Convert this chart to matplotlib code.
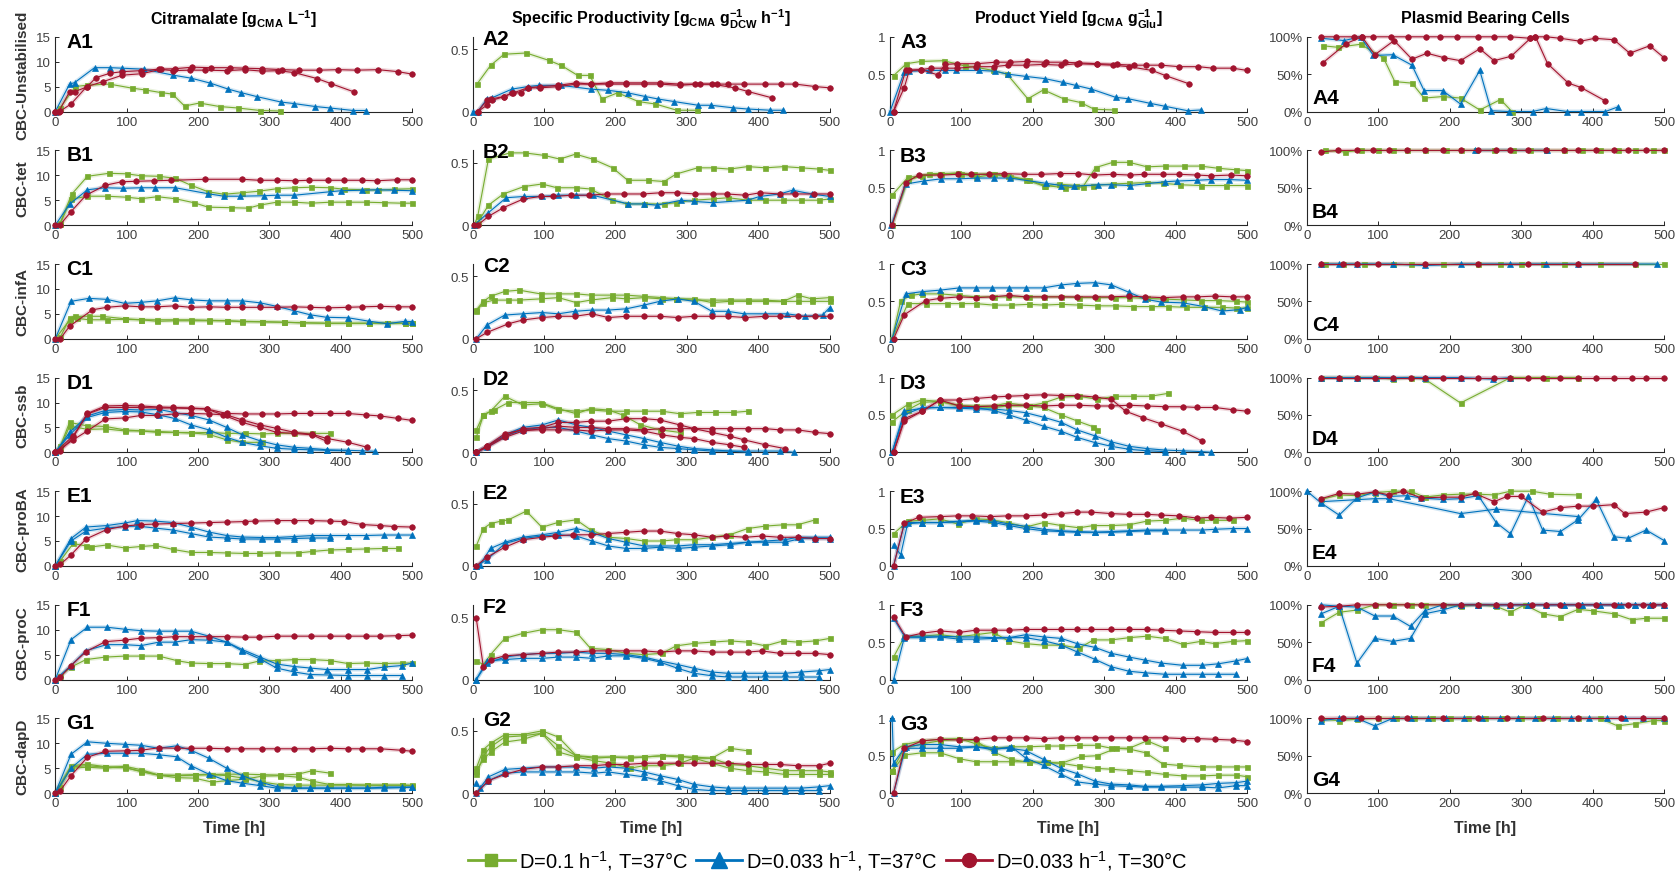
import numpy as np
import matplotlib.pyplot as plt
from matplotlib.lines import Line2D

plt.rcParams['font.family'] = ['Liberation Sans', 'DejaVu Sans']
plt.rcParams['mathtext.fontset'] = 'custom'
plt.rcParams['mathtext.rm'] = 'Liberation Sans'
plt.rcParams['mathtext.bf'] = 'Liberation Sans:bold'

GREEN = '#77AC30'
BLUE = '#0072BD'
RED = '#A2142F'

# ---- data: (time [h], value) per replicate ----
# row A: unstabilised
a1_g1 = [(0, 0), (7, 0.8), (28, 5.0), (45, 5.3), (76, 5.5), (107, 4.7), (125, 4.35), (148, 3.8), (164, 3.5), (181, 1.1), (202, 1.7), (230, 1.0), (256, 0.7), (287, 0.2), (315, 0.1)]
a1_b1 = [(0, 0), (20, 5.5), (27, 5.8), (55, 8.8), (77, 8.8), (93, 8.7), (124, 8.5), (165, 7.3), (190, 6.7), (217, 5.7), (242, 4.5), (260, 3.8), (282, 3.0), (316, 1.9), (334, 1.6), (364, 1.0), (385, 0.7), (417, 0.2), (435, 0.2)]
a1_r1 = [(0, 0), (7, 0.1), (22, 1.5), (44, 5.0), (67, 6.0), (94, 7.3), (122, 7.6), (148, 8.5), (168, 8.6), (192, 8.9), (218, 8.8), (245, 8.8), (265, 8.7), (290, 8.6), (318, 8.4), (342, 8.3), (370, 8.3), (396, 8.4), (422, 8.3), (452, 8.4), (480, 8.0), (500, 7.5)]
a1_r2 = [(0, 0), (5, 0), (20, 4.0), (27, 4.0), (44, 4.9), (57, 6.8), (77, 7.7), (94, 8.0), (120, 8.2), (145, 8.5), (165, 8.2), (188, 8.3), (210, 8.3), (240, 8.2), (265, 8.4), (290, 8.1), (312, 8.2), (335, 7.8), (367, 6.6), (386, 5.6), (419, 3.9)]

a2_g1 = [(6, 0.22), (25, 0.37), (44, 0.46), (75, 0.47), (107, 0.41), (124, 0.37), (147, 0.29), (164, 0.29), (181, 0.10), (203, 0.15), (232, 0.08), (256, 0.06), (286, 0.01), (314, 0.01)]
a2_b1 = [(0, 0), (7, 0), (20, 0.10), (27, 0.11), (55, 0.18), (77, 0.20), (93, 0.21), (124, 0.21), (165, 0.18), (190, 0.17), (217, 0.15), (242, 0.12), (260, 0.10), (282, 0.08), (316, 0.05), (334, 0.05), (364, 0.03), (385, 0.02), (417, 0.01), (435, 0.01)]
a2_r1 = [(7, 0), (20, 0.05), (25, 0.10), (44, 0.12), (55, 0.15), (67, 0.15), (77, 0.19), (94, 0.19), (120, 0.20), (145, 0.22), (165, 0.22), (192, 0.23), (215, 0.23), (240, 0.23), (262, 0.23), (290, 0.22), (318, 0.22), (342, 0.22), (358, 0.22), (380, 0.22), (410, 0.22), (432, 0.22), (452, 0.22), (480, 0.20), (500, 0.19)]
a2_r2 = [(7, 0), (20, 0.09), (27, 0.09), (44, 0.12), (57, 0.15), (77, 0.19), (94, 0.20), (120, 0.21), (145, 0.23), (165, 0.22), (190, 0.22), (215, 0.22), (240, 0.22), (262, 0.22), (290, 0.21), (312, 0.22), (335, 0.22), (367, 0.19), (386, 0.16), (419, 0.11)]

a3_g1 = [(5, 0.48), (23, 0.64), (43, 0.67), (75, 0.68), (105, 0.61), (122, 0.59), (144, 0.55), (164, 0.50), (193, 0.17), (215, 0.29), (243, 0.17), (267, 0.12), (286, 0.03), (314, 0.02)]
a3_b1 = [(0, 0), (20, 0.53), (27, 0.54), (55, 0.55), (77, 0.55), (93, 0.55), (124, 0.55), (147, 0.54), (165, 0.50), (190, 0.47), (217, 0.44), (242, 0.39), (260, 0.35), (282, 0.30), (316, 0.19), (334, 0.17), (364, 0.11), (385, 0.07), (417, 0.01), (435, 0.02)]
a3_r1 = [(5, 0), (20, 0.32), (27, 0.55), (44, 0.56), (67, 0.49), (77, 0.63), (94, 0.64), (122, 0.64), (148, 0.66), (168, 0.66), (192, 0.67), (218, 0.66), (245, 0.66), (265, 0.65), (290, 0.64), (318, 0.63), (342, 0.62), (358, 0.62), (380, 0.62), (405, 0.60), (432, 0.60), (452, 0.58), (480, 0.58), (500, 0.55)]
a3_r2 = [(5, 0), (22, 0.55), (44, 0.56), (57, 0.58), (77, 0.58), (94, 0.58), (120, 0.60), (145, 0.60), (165, 0.62), (190, 0.62), (215, 0.63), (240, 0.62), (262, 0.64), (290, 0.63), (312, 0.62), (335, 0.60), (367, 0.55), (386, 0.48), (419, 0.37)]

a4_g1 = [(22, 88), (43, 86), (75, 90), (107, 72), (123, 40), (147, 38), (164, 18), (190, 20), (215, 18), (242, 2), (271, 16), (287, 0)]
a4_b1 = [(20, 98), (52, 95), (75, 100), (93, 75), (120, 76), (147, 62), (164, 28), (190, 28), (215, 10), (242, 55), (258, 1), (283, 0), (316, 0), (335, 4), (364, 0), (384, 0), (418, 0), (435, 6)]
a4_r1 = [(20, 100), (41, 100), (66, 100), (77, 100), (93, 100), (118, 100), (141, 100), (166, 100), (186, 100), (210, 100), (240, 100), (262, 100), (285, 100), (313, 98), (320, 100), (335, 100), (355, 98), (383, 94), (403, 98), (430, 96), (452, 78), (480, 88), (500, 72)]
a4_r2 = [(22, 65), (55, 91), (77, 100), (95, 76), (122, 95), (147, 70), (168, 78), (192, 72), (215, 68), (242, 84), (262, 68), (286, 74), (313, 98), (320, 100), (337, 64), (366, 38), (384, 32), (418, 14)]

# row B: tet
b1_g1 = [(0, 0), (7, 0.5), (23, 6.2), (45, 9.8), (75, 10.4), (100, 10.3), (120, 9.9), (145, 9.8), (168, 9.4), (190, 8.0), (214, 6.7), (236, 6.2), (262, 6.5), (285, 6.8), (310, 7.3), (335, 7.5), (358, 7.6), (385, 7.5), (405, 7.2), (435, 7.1), (452, 7.0), (475, 7.2), (500, 7.3)]
b1_g2 = [(0, 0), (7, 0.3), (22, 5.2), (45, 5.8), (72, 5.8), (100, 5.6), (120, 5.3), (143, 5.7), (168, 5.3), (194, 4.5), (214, 3.6), (246, 3.5), (270, 3.4), (286, 4.0), (310, 4.6), (335, 4.6), (358, 4.4), (385, 4.6), (410, 4.6), (435, 4.6), (460, 4.5), (485, 4.4), (500, 4.4)]
b1_b1 = [(0, 0), (20, 4.2), (45, 7.1), (70, 7.5), (95, 7.4), (120, 7.5), (140, 7.5), (168, 7.5), (214, 6.3), (236, 5.8), (258, 5.8), (292, 5.9), (310, 6.0), (335, 6.0), (385, 6.7), (400, 6.9), (430, 7.0), (450, 7.1), (475, 7.0), (500, 6.9)]
b1_r1 = [(0, 0), (7, 0.1), (22, 2.7), (43, 6.0), (70, 8.0), (93, 8.7), (113, 8.8), (138, 8.9), (162, 9.0), (210, 9.2), (262, 9.2), (286, 9.0), (311, 9.0), (336, 8.9), (355, 9.0), (382, 9.0), (405, 9.0), (430, 9.0), (450, 8.9), (478, 9.1), (500, 9.1)]

b2_g1 = [(2, 0), (7, 0.07), (22, 0.53), (52, 0.58), (73, 0.58), (100, 0.56), (122, 0.53), (144, 0.57), (168, 0.53), (196, 0.46), (217, 0.36), (245, 0.36), (268, 0.35), (285, 0.41), (315, 0.46), (336, 0.46), (360, 0.45), (385, 0.47), (410, 0.46), (436, 0.47), (460, 0.46), (485, 0.45), (500, 0.44)]
b2_g2 = [(2, 0), (7, 0.02), (22, 0.16), (43, 0.25), (72, 0.31), (97, 0.33), (118, 0.30), (145, 0.30), (165, 0.29), (195, 0.20), (216, 0.17), (240, 0.17), (268, 0.17), (285, 0.18), (310, 0.20), (336, 0.21), (358, 0.22), (385, 0.20), (410, 0.20), (435, 0.20), (460, 0.20), (485, 0.20), (500, 0.21)]
b2_b1 = [(2, 0), (22, 0.10), (47, 0.22), (72, 0.23), (97, 0.23), (120, 0.24), (145, 0.24), (168, 0.24), (218, 0.17), (240, 0.17), (258, 0.16), (292, 0.20), (310, 0.19), (336, 0.18), (385, 0.20), (402, 0.23), (430, 0.25), (448, 0.28), (475, 0.25), (500, 0.23)]
b2_r1 = [(2, 0), (7, 0), (22, 0.07), (43, 0.14), (71, 0.21), (95, 0.23), (113, 0.23), (138, 0.24), (163, 0.24), (188, 0.25), (212, 0.25), (238, 0.25), (264, 0.26), (286, 0.26), (312, 0.25), (336, 0.25), (356, 0.25), (382, 0.24), (403, 0.26), (430, 0.25), (452, 0.25), (478, 0.25), (500, 0.25)]

b3_g1 = [(3, 0.40), (25, 0.64), (45, 0.66), (70, 0.68), (95, 0.70), (118, 0.68), (143, 0.69), (165, 0.66), (195, 0.60), (217, 0.53), (245, 0.50), (270, 0.51), (288, 0.77), (312, 0.84), (335, 0.84), (360, 0.78), (385, 0.79), (412, 0.79), (435, 0.79), (460, 0.76), (485, 0.74), (500, 0.73)]
b3_g2 = [(3, 0), (25, 0.60), (55, 0.69), (72, 0.69), (100, 0.69), (120, 0.64), (145, 0.68), (168, 0.64), (190, 0.61), (216, 0.52), (236, 0.55), (260, 0.53), (285, 0.53), (312, 0.55), (335, 0.56), (360, 0.57), (382, 0.56), (406, 0.54), (436, 0.53), (470, 0.53), (500, 0.53)]
b3_b1 = [(2, 0), (22, 0.55), (47, 0.59), (72, 0.62), (97, 0.62), (122, 0.63), (145, 0.63), (168, 0.63), (218, 0.56), (240, 0.53), (258, 0.52), (292, 0.54), (310, 0.54), (336, 0.53), (385, 0.58), (402, 0.59), (430, 0.60), (450, 0.61), (475, 0.61), (500, 0.60)]
b3_r1 = [(3, 0), (22, 0.57), (40, 0.67), (70, 0.67), (95, 0.68), (113, 0.68), (138, 0.68), (160, 0.69), (188, 0.68), (212, 0.68), (238, 0.69), (264, 0.69), (286, 0.67), (312, 0.68), (336, 0.67), (356, 0.68), (382, 0.68), (405, 0.68), (430, 0.67), (450, 0.66), (478, 0.67), (500, 0.66)]

b4_g1 = [(25, 100), (53, 98), (75, 100), (100, 100), (120, 100), (140, 100), (165, 100), (195, 100), (215, 100), (236, 100), (262, 100), (288, 100), (312, 100), (335, 100), (360, 100), (385, 100), (410, 100), (435, 100), (460, 100), (485, 100), (500, 100)]
b4_b1 = [(235, 100), (336, 100)]
b4_r1 = [(20, 98), (43, 100), (70, 100), (92, 100), (115, 100), (140, 100), (165, 100), (190, 100), (215, 100), (240, 100), (265, 100), (285, 100), (310, 100), (335, 100), (360, 100), (380, 100), (405, 100), (430, 100), (450, 100), (475, 100), (500, 100)]

# row C: infA
c1_g1 = [(0, 0), (7, 0.3), (20, 4.1), (27, 4.5), (47, 4.5), (65, 4.5), (97, 4.0), (120, 3.8), (143, 3.8), (167, 3.8), (190, 3.8), (215, 3.7), (240, 3.6), (262, 3.5), (290, 3.4), (320, 3.3), (345, 3.2), (380, 3.1), (410, 3.1), (440, 3.1), (465, 3.2), (490, 3.1), (500, 3.2)]
c1_g2 = [(0, 0), (20, 3.7), (30, 4.1), (47, 3.8), (72, 3.8), (97, 3.9), (120, 3.8), (143, 3.5), (167, 3.6), (190, 3.6), (215, 3.6), (240, 3.6), (262, 3.4), (290, 3.4), (320, 3.3), (345, 3.2), (380, 3.1), (410, 3.1), (440, 3.1), (465, 3.1), (490, 3.1), (500, 3.1)]
c1_b1 = [(0, 0), (22, 7.5), (47, 8.1), (72, 7.9), (97, 7.1), (120, 7.3), (143, 7.6), (167, 8.2), (190, 7.8), (215, 7.6), (240, 7.6), (262, 7.6), (287, 7.2), (310, 6.5), (335, 5.6), (357, 4.8), (380, 4.3), (410, 4.2), (440, 3.5), (465, 3.0), (490, 3.5), (500, 3.4)]
c1_r1 = [(0, 0), (7, 0), (20, 2.5), (52, 5.8), (72, 6.3), (97, 6.6), (120, 6.4), (143, 6.4), (167, 6.6), (190, 6.3), (215, 6.4), (240, 6.3), (262, 6.3), (287, 6.3), (310, 6.3), (335, 6.4), (357, 6.3), (382, 6.2), (410, 6.3), (430, 6.4), (455, 6.5), (480, 6.4), (500, 6.4)]

c2_g1 = [(5, 0.23), (15, 0.30), (25, 0.34), (45, 0.38), (65, 0.39), (95, 0.36), (120, 0.36), (145, 0.36), (165, 0.35), (195, 0.35), (215, 0.35), (240, 0.34), (265, 0.33), (285, 0.32), (310, 0.31), (335, 0.31), (360, 0.31), (385, 0.31), (410, 0.31), (435, 0.30), (455, 0.35), (475, 0.32), (500, 0.33)]
c2_g2 = [(5, 0.22), (15, 0.29), (30, 0.31), (50, 0.31), (65, 0.31), (95, 0.32), (120, 0.33), (145, 0.29), (165, 0.31), (195, 0.33), (215, 0.32), (240, 0.33), (265, 0.32), (285, 0.32), (310, 0.32), (335, 0.29), (360, 0.30), (385, 0.30), (410, 0.30), (435, 0.30), (455, 0.30), (475, 0.30), (500, 0.30)]
c2_b1 = [(5, 0), (20, 0.11), (45, 0.19), (70, 0.20), (97, 0.21), (120, 0.20), (143, 0.22), (167, 0.23), (190, 0.23), (215, 0.24), (240, 0.27), (262, 0.30), (287, 0.32), (310, 0.30), (335, 0.22), (357, 0.22), (380, 0.20), (410, 0.20), (440, 0.20), (465, 0.18), (490, 0.19), (500, 0.25)]
c2_r1 = [(5, 0), (20, 0.05), (50, 0.12), (70, 0.15), (97, 0.17), (120, 0.18), (143, 0.18), (167, 0.20), (190, 0.17), (215, 0.18), (240, 0.18), (262, 0.18), (287, 0.17), (310, 0.18), (335, 0.18), (357, 0.18), (382, 0.17), (410, 0.18), (430, 0.18), (455, 0.18), (480, 0.18), (500, 0.18)]

c3_g1 = [(3, 0), (15, 0.51), (30, 0.58), (45, 0.60), (70, 0.60), (97, 0.58), (120, 0.56), (145, 0.56), (165, 0.56), (195, 0.56), (215, 0.56), (240, 0.56), (265, 0.55), (290, 0.55), (315, 0.55), (335, 0.55), (360, 0.54), (385, 0.53), (410, 0.52), (435, 0.51), (460, 0.51), (485, 0.50), (500, 0.49)]
c3_g2 = [(3, 0), (25, 0.47), (50, 0.47), (80, 0.47), (100, 0.47), (120, 0.47), (145, 0.45), (170, 0.45), (195, 0.46), (215, 0.45), (240, 0.46), (265, 0.45), (290, 0.44), (315, 0.44), (340, 0.43), (365, 0.43), (390, 0.43), (415, 0.42), (440, 0.42), (465, 0.42), (485, 0.41), (500, 0.41)]
c3_b1 = [(3, 0), (22, 0.60), (45, 0.63), (70, 0.65), (97, 0.68), (120, 0.68), (143, 0.68), (167, 0.68), (190, 0.68), (215, 0.68), (240, 0.72), (262, 0.74), (287, 0.75), (310, 0.72), (335, 0.62), (357, 0.53), (380, 0.49), (410, 0.48), (440, 0.43), (465, 0.37), (490, 0.39), (500, 0.42)]
c3_r1 = [(5, 0), (20, 0.32), (50, 0.51), (70, 0.54), (97, 0.56), (120, 0.55), (143, 0.56), (167, 0.58), (190, 0.56), (215, 0.56), (240, 0.56), (262, 0.56), (287, 0.56), (310, 0.56), (335, 0.57), (357, 0.56), (382, 0.55), (410, 0.56), (430, 0.56), (455, 0.57), (480, 0.56), (500, 0.56)]

c4_g1 = [(25, 100), (50, 100), (80, 100), (120, 100), (145, 100), (190, 100), (240, 100), (270, 100), (300, 100), (330, 100), (360, 100), (410, 100), (460, 100), (500, 100)]
c4_b1 = [(20, 100), (45, 100), (70, 100), (120, 100), (165, 98), (215, 100), (285, 100), (335, 100), (380, 100), (490, 100)]
c4_r1 = [(20, 100), (50, 100), (70, 100), (100, 100), (165, 100), (240, 100), (310, 100), (380, 100), (460, 100)]

# row D: ssb
d1_g1 = [(0, 0), (7, 1.2), (20, 6.0), (45, 5.3), (70, 5.2), (97, 4.5), (120, 4.3), (143, 4.2), (167, 4.0), (190, 3.9), (215, 4.0), (240, 3.8), (265, 3.8), (290, 3.7), (310, 3.8), (335, 3.8), (360, 3.8), (385, 3.8)]
d1_g2 = [(0, 0), (7, 0.8), (20, 5.3), (45, 4.6), (70, 4.7), (97, 4.3), (120, 4.3), (143, 4.0), (167, 4.0), (190, 3.9), (215, 3.6), (240, 2.5), (262, 2.0), (290, 2.0)]
d1_b1 = [(0, 0), (20, 4.0), (45, 7.3), (70, 8.4), (97, 8.6), (120, 8.5), (145, 8.6), (167, 8.0), (190, 7.4), (215, 6.5), (240, 5.0), (262, 3.5), (287, 2.3), (310, 1.5), (335, 1.0), (357, 0.8), (380, 0.5), (410, 0.4), (430, 0.3), (448, 0.2)]
d1_b2 = [(0, 0), (20, 3.5), (45, 7.0), (70, 8.0), (97, 8.2), (120, 8.1), (145, 7.5), (167, 6.8), (190, 5.5), (215, 4.5), (240, 3.0), (262, 2.0), (287, 1.3), (310, 0.8), (335, 0.6), (357, 0.5), (380, 0.4), (410, 0.3)]
d1_r1 = [(0, 0), (7, 0.3), (25, 3.0), (45, 7.8), (70, 9.3), (97, 9.4), (120, 9.3), (145, 9.1), (165, 9.0), (190, 8.9), (212, 8.7), (240, 7.8), (265, 7.7), (290, 7.7), (310, 7.7), (335, 7.8), (357, 7.8), (385, 7.8), (410, 7.8), (435, 7.5), (455, 7.3), (480, 6.8), (500, 6.4)]
d1_r2 = [(0, 0), (25, 2.5), (45, 4.3), (70, 6.7), (97, 6.9), (120, 7.4), (143, 7.4), (167, 7.7), (190, 7.8), (215, 7.7), (240, 7.5), (262, 6.5), (287, 5.5), (310, 4.8), (335, 4.0), (360, 3.6), (380, 2.8), (410, 2.0), (437, 1.0)]
d1_r3 = [(0, 0), (25, 3.3), (45, 7.7), (70, 9.0), (97, 9.0), (120, 9.0), (145, 8.9), (165, 8.9), (190, 8.8), (212, 8.7), (235, 7.5), (262, 6.0), (287, 5.0), (310, 4.0), (335, 3.8), (360, 3.5), (380, 2.2)]

d2_g1 = [(5, 0.18), (15, 0.30), (25, 0.33), (45, 0.45), (70, 0.38), (97, 0.39), (120, 0.34), (145, 0.33), (165, 0.34), (190, 0.33), (215, 0.33), (240, 0.33), (265, 0.33), (290, 0.31), (315, 0.32), (340, 0.32), (365, 0.32), (385, 0.33)]
d2_g2 = [(5, 0.12), (15, 0.30), (30, 0.34), (50, 0.40), (70, 0.40), (95, 0.40), (120, 0.35), (145, 0.31), (165, 0.35), (190, 0.34), (210, 0.30), (235, 0.22), (262, 0.18), (290, 0.16)]
d2_b1 = [(5, 0), (20, 0.05), (45, 0.14), (70, 0.20), (97, 0.22), (120, 0.26), (145, 0.22), (167, 0.20), (190, 0.17), (215, 0.14), (240, 0.11), (262, 0.08), (287, 0.05), (310, 0.03), (335, 0.02), (360, 0.01), (385, 0.01), (410, 0.01), (430, 0.01), (450, 0.0)]
d2_b2 = [(5, 0), (20, 0.04), (45, 0.13), (70, 0.18), (97, 0.20), (120, 0.20), (145, 0.17), (167, 0.14), (190, 0.11), (215, 0.09), (240, 0.06), (262, 0.04), (287, 0.03), (310, 0.02), (335, 0.01), (360, 0.01), (385, 0.0)]
d2_r1 = [(5, 0), (20, 0.04), (45, 0.12), (70, 0.17), (97, 0.19), (120, 0.21), (145, 0.20), (165, 0.20), (190, 0.19), (215, 0.19), (240, 0.18), (265, 0.19), (290, 0.19), (310, 0.19), (335, 0.19), (360, 0.19), (385, 0.19), (410, 0.19), (430, 0.18), (455, 0.18), (480, 0.16), (500, 0.15)]
d2_r2 = [(5, 0), (20, 0.05), (45, 0.13), (70, 0.19), (97, 0.20), (120, 0.24), (145, 0.24), (165, 0.25), (190, 0.25), (215, 0.27), (240, 0.27), (262, 0.26), (290, 0.22), (310, 0.19), (335, 0.16), (360, 0.13), (380, 0.10), (410, 0.06), (437, 0.03)]
d2_r3 = [(5, 0), (20, 0.05), (45, 0.15), (70, 0.18), (97, 0.18), (120, 0.18), (145, 0.18), (165, 0.17), (190, 0.18), (215, 0.18), (240, 0.17), (265, 0.14), (290, 0.12), (310, 0.11), (335, 0.08), (360, 0.06), (380, 0.04)]

d3_g1 = [(3, 0.50), (25, 0.64), (45, 0.70), (70, 0.68), (97, 0.62), (120, 0.62), (145, 0.62), (165, 0.66), (195, 0.62), (215, 0.66), (240, 0.74), (265, 0.75), (290, 0.71), (315, 0.75), (340, 0.75), (365, 0.75), (390, 0.79)]
d3_g2 = [(3, 0.41), (25, 0.57), (45, 0.67), (70, 0.68), (97, 0.63), (120, 0.61), (145, 0.60), (165, 0.62), (195, 0.62), (215, 0.60), (240, 0.50), (262, 0.42), (285, 0.34), (290, 0.30)]
d3_b1 = [(3, 0), (20, 0.55), (45, 0.59), (70, 0.60), (97, 0.59), (120, 0.58), (145, 0.58), (167, 0.56), (190, 0.53), (215, 0.47), (240, 0.40), (262, 0.30), (287, 0.22), (310, 0.14), (335, 0.08), (360, 0.05), (385, 0.03), (410, 0.02), (435, 0.01), (450, 0.0)]
d3_b2 = [(3, 0), (20, 0.50), (45, 0.60), (70, 0.60), (97, 0.60), (120, 0.60), (145, 0.56), (167, 0.50), (190, 0.43), (215, 0.35), (240, 0.28), (262, 0.20), (287, 0.13), (310, 0.08), (335, 0.04), (360, 0.02), (385, 0.01)]
d3_r1 = [(5, 0), (20, 0.45), (45, 0.55), (70, 0.70), (97, 0.62), (120, 0.61), (145, 0.62), (165, 0.63), (190, 0.63), (215, 0.62), (240, 0.63), (265, 0.63), (290, 0.62), (310, 0.62), (335, 0.63), (360, 0.62), (385, 0.61), (410, 0.61), (430, 0.60), (455, 0.60), (480, 0.57), (500, 0.55)]
d3_r2 = [(5, 0), (20, 0.42), (45, 0.55), (70, 0.70), (97, 0.70), (120, 0.72), (145, 0.74), (165, 0.75), (190, 0.76), (215, 0.77), (240, 0.76), (262, 0.76), (287, 0.74), (310, 0.71), (330, 0.55), (355, 0.46), (380, 0.38), (410, 0.28), (437, 0.15)]

d4_g1 = [(20, 100), (45, 100), (70, 100), (97, 100), (120, 98), (145, 100), (165, 98), (215, 66), (285, 100), (335, 100), (380, 100)]
d4_b1 = [(20, 100), (45, 100), (70, 100), (97, 100), (120, 100), (165, 100), (215, 100), (260, 98), (285, 100)]
d4_r1 = [(20, 100), (45, 100), (70, 100), (95, 100), (120, 100), (145, 100), (165, 100), (190, 100), (215, 100), (240, 100), (262, 100), (285, 100), (310, 100), (330, 100), (355, 100), (380, 100), (405, 100), (430, 100), (455, 100), (475, 100), (500, 100)]

# row E: proBA
e1_g1 = [(0, 0), (7, 1.0), (25, 4.5), (43, 4.0), (50, 3.8), (72, 4.2), (97, 3.6), (120, 3.9), (140, 4.1), (165, 3.3), (190, 2.7), (215, 2.7), (240, 2.6), (265, 2.5), (285, 2.5), (310, 2.6), (340, 2.6), (360, 2.9), (385, 3.2), (410, 3.3), (435, 3.4), (460, 3.5), (480, 3.5)]
e1_b1 = [(0, 0), (22, 5.5), (43, 7.8), (72, 8.1), (97, 8.6), (115, 9.1), (140, 9.0), (165, 8.7), (190, 7.8), (215, 6.8), (240, 6.1), (262, 5.8), (290, 5.7), (310, 5.7), (335, 5.9), (360, 6.1), (385, 6.1), (410, 6.1), (435, 6.1), (460, 6.2), (480, 6.2), (500, 6.2)]
e1_b2 = [(0, 0), (22, 5.0), (43, 7.0), (72, 7.6), (97, 7.9), (115, 8.0), (140, 7.6), (165, 7.2), (190, 6.5), (215, 5.8), (240, 5.6), (262, 5.4), (290, 5.4), (310, 5.4), (335, 5.5), (360, 5.6), (385, 5.6)]
e1_r1 = [(0, 0), (7, 0.3), (22, 2.2), (43, 5.4), (72, 7.3), (97, 8.0), (120, 8.3), (140, 8.4), (165, 8.5), (190, 8.6), (215, 8.7), (240, 8.8), (265, 8.9), (280, 9.0), (310, 9.1), (335, 9.1), (358, 9.1), (385, 9.0), (405, 8.9), (430, 8.3), (455, 8.1), (475, 7.9), (500, 7.8)]

e2_g1 = [(5, 0.16), (15, 0.30), (25, 0.34), (40, 0.36), (50, 0.37), (75, 0.44), (97, 0.31), (120, 0.35), (145, 0.37), (165, 0.29), (190, 0.23), (215, 0.22), (240, 0.20), (265, 0.20), (285, 0.21), (310, 0.21), (335, 0.23), (360, 0.25), (385, 0.30), (410, 0.32), (435, 0.33), (455, 0.33), (480, 0.37)]
e2_b1 = [(5, 0), (10, 0.01), (25, 0.14), (45, 0.19), (70, 0.23), (97, 0.25), (120, 0.27), (145, 0.30), (167, 0.27), (190, 0.22), (215, 0.19), (240, 0.16), (262, 0.16), (287, 0.16), (310, 0.17), (335, 0.17), (360, 0.18), (385, 0.19), (410, 0.20), (437, 0.21), (455, 0.23), (480, 0.23), (500, 0.23)]
e2_b2 = [(5, 0), (20, 0.05), (45, 0.18), (70, 0.22), (97, 0.24), (120, 0.25), (145, 0.24), (167, 0.20), (190, 0.16), (215, 0.14), (240, 0.14), (262, 0.15), (287, 0.14), (310, 0.15), (335, 0.16), (360, 0.17), (385, 0.19), (410, 0.19), (437, 0.19), (460, 0.22), (480, 0.22), (500, 0.22)]
e2_r1 = [(5, 0), (20, 0.07), (45, 0.15), (70, 0.21), (97, 0.23), (115, 0.24), (140, 0.25), (165, 0.25), (190, 0.26), (215, 0.27), (240, 0.28), (262, 0.28), (287, 0.26), (310, 0.25), (335, 0.23), (355, 0.24), (382, 0.23), (405, 0.24), (430, 0.23), (455, 0.23), (480, 0.22), (500, 0.22)]

e3_g1 = [(5, 0.43), (25, 0.60), (45, 0.61), (70, 0.63), (95, 0.56), (120, 0.63), (140, 0.62), (165, 0.58), (190, 0.52), (215, 0.58), (240, 0.54), (265, 0.51), (285, 0.54), (310, 0.54), (335, 0.55), (360, 0.60), (385, 0.61), (410, 0.64), (435, 0.61), (455, 0.61), (480, 0.61)]
e3_b1 = [(5, 0.28), (15, 0.15), (25, 0.58), (45, 0.58), (70, 0.58), (97, 0.60), (120, 0.61), (145, 0.60), (167, 0.56), (190, 0.53), (215, 0.49), (240, 0.47), (262, 0.46), (287, 0.45), (310, 0.46), (335, 0.47), (360, 0.48), (385, 0.48), (410, 0.48), (437, 0.48), (455, 0.49), (480, 0.50), (500, 0.50)]
e3_b2 = [(5, 0), (20, 0.56), (45, 0.58), (70, 0.58), (97, 0.59), (120, 0.60), (145, 0.58), (167, 0.54), (190, 0.50), (215, 0.47), (240, 0.46), (262, 0.45), (287, 0.45), (310, 0.45), (335, 0.46), (360, 0.47), (385, 0.47)]
e3_r1 = [(5, 0), (20, 0.57), (40, 0.65), (70, 0.66), (95, 0.67), (115, 0.67), (140, 0.66), (165, 0.67), (190, 0.67), (215, 0.68), (240, 0.70), (262, 0.72), (282, 0.72), (310, 0.70), (335, 0.69), (360, 0.69), (380, 0.68), (405, 0.67), (430, 0.64), (450, 0.65), (475, 0.64), (500, 0.65)]

e4_g1 = [(20, 89), (45, 95), (70, 94), (95, 98), (120, 100), (145, 100), (165, 92), (190, 95), (215, 96), (240, 96), (262, 95), (285, 100), (315, 100), (340, 96), (380, 95)]
e4_b1 = [(0, 100), (20, 84), (45, 68), (70, 91), (95, 99), (115, 93), (140, 94), (160, 91), (190, 89), (215, 90), (240, 94), (265, 58), (285, 43), (310, 93), (330, 48), (355, 46), (380, 62), (405, 89), (430, 39), (450, 37), (475, 48), (500, 34)]
e4_b2 = [(20, 86), (95, 90), (115, 90), (215, 70), (265, 76), (380, 66)]
e4_r1 = [(20, 90), (45, 97), (70, 96), (95, 99), (115, 95), (135, 100), (160, 91), (190, 92), (215, 92), (235, 97), (262, 86), (280, 93), (300, 93), (330, 72), (355, 78), (380, 80), (400, 80), (430, 82), (445, 70), (475, 72), (500, 78)]

# row F: proC
f1_g1 = [(0, 0), (7, 0.7), (22, 2.5), (43, 4.0), (70, 4.5), (97, 4.7), (120, 4.7), (145, 4.7), (170, 3.8), (190, 3.3), (215, 3.2), (240, 3.2), (265, 3.0), (285, 3.7), (310, 3.8), (335, 4.0), (360, 4.0), (385, 3.8), (410, 3.2), (435, 3.3), (460, 3.2), (485, 3.3), (500, 3.3)]
f1_b1 = [(0, 0), (22, 8.0), (45, 10.5), (72, 10.5), (97, 10.1), (120, 9.8), (145, 9.7), (167, 9.7), (190, 9.7), (215, 8.7), (240, 7.5), (262, 6.0), (287, 4.5), (310, 3.1), (335, 2.6), (357, 2.3), (380, 2.0), (410, 2.0), (437, 2.0), (460, 2.5), (485, 2.8), (500, 3.3)]
f1_b2 = [(0, 0), (22, 2.8), (43, 5.8), (72, 7.0), (97, 7.0), (120, 6.8), (145, 7.5), (167, 7.5), (190, 8.0), (215, 7.9), (240, 7.5), (262, 5.7), (287, 4.1), (310, 2.3), (335, 1.5), (357, 1.0), (385, 0.9), (410, 0.8), (437, 0.8), (460, 0.8), (485, 0.8)]
f1_r1 = [(0, 0), (7, 0.5), (22, 2.8), (43, 5.6), (70, 7.6), (97, 7.9), (120, 8.3), (145, 8.4), (167, 8.6), (190, 8.6), (215, 8.6), (240, 8.6), (265, 8.5), (285, 8.5), (310, 8.7), (335, 8.7), (358, 8.7), (385, 8.7), (410, 8.7), (435, 8.7), (455, 8.7), (480, 8.8), (500, 8.9)]

f2_g1 = [(5, 0.15), (15, 0.12), (25, 0.20), (45, 0.33), (70, 0.37), (97, 0.40), (120, 0.40), (145, 0.38), (165, 0.25), (190, 0.24), (215, 0.21), (240, 0.20), (265, 0.21), (285, 0.27), (310, 0.29), (335, 0.30), (360, 0.31), (385, 0.30), (410, 0.27), (435, 0.31), (455, 0.30), (480, 0.31), (500, 0.33)]
f2_b1 = [(5, 0), (20, 0.13), (45, 0.18), (70, 0.20), (97, 0.21), (120, 0.21), (145, 0.22), (167, 0.21), (190, 0.21), (215, 0.20), (240, 0.18), (262, 0.15), (287, 0.12), (310, 0.09), (335, 0.06), (357, 0.05), (380, 0.05), (410, 0.05), (437, 0.05), (460, 0.06), (485, 0.07), (500, 0.08)]
f2_b2 = [(5, 0), (20, 0.15), (45, 0.16), (70, 0.17), (97, 0.17), (120, 0.18), (145, 0.18), (167, 0.17), (190, 0.19), (215, 0.19), (240, 0.17), (262, 0.14), (287, 0.09), (310, 0.05), (335, 0.03), (357, 0.02), (380, 0.02), (410, 0.02), (437, 0.02), (460, 0.02), (485, 0.02)]
f2_r1 = [(5, 0.49), (15, 0.10), (25, 0.16), (45, 0.19), (70, 0.20), (97, 0.21), (120, 0.22), (145, 0.22), (167, 0.23), (190, 0.23), (215, 0.23), (240, 0.23), (262, 0.22), (287, 0.23), (310, 0.23), (335, 0.22), (360, 0.22), (385, 0.22), (405, 0.23), (430, 0.21), (455, 0.21), (480, 0.21), (500, 0.20)]

f3_g1 = [(5, 0.30), (20, 0.57), (45, 0.58), (70, 0.60), (95, 0.57), (120, 0.60), (145, 0.63), (165, 0.52), (190, 0.48), (215, 0.46), (240, 0.46), (265, 0.42), (285, 0.53), (310, 0.53), (335, 0.56), (360, 0.58), (385, 0.55), (410, 0.47), (435, 0.51), (455, 0.48), (480, 0.51), (500, 0.52)]
f3_b1 = [(5, 0.82), (20, 0.58), (45, 0.58), (70, 0.58), (97, 0.57), (120, 0.57), (145, 0.56), (167, 0.56), (190, 0.60), (215, 0.57), (240, 0.55), (262, 0.48), (287, 0.43), (310, 0.35), (335, 0.30), (357, 0.26), (380, 0.22), (410, 0.19), (437, 0.19), (460, 0.21), (485, 0.25), (500, 0.28)]
f3_b2 = [(5, 0), (20, 0.56), (45, 0.56), (70, 0.57), (97, 0.54), (120, 0.54), (145, 0.55), (167, 0.56), (190, 0.56), (215, 0.52), (240, 0.46), (262, 0.37), (287, 0.27), (310, 0.17), (335, 0.11), (357, 0.09), (385, 0.07), (410, 0.07), (437, 0.07), (460, 0.07), (485, 0.07)]
f3_r1 = [(5, 0.84), (22, 0.57), (45, 0.62), (70, 0.65), (97, 0.63), (120, 0.66), (145, 0.66), (167, 0.66), (190, 0.67), (215, 0.67), (240, 0.67), (262, 0.67), (282, 0.67), (310, 0.67), (335, 0.67), (360, 0.67), (380, 0.66), (405, 0.65), (430, 0.64), (455, 0.63), (480, 0.63), (500, 0.63)]

f4_g1 = [(20, 76), (45, 90), (70, 93), (95, 100), (120, 100), (145, 100), (165, 100), (190, 100), (215, 98), (240, 100), (265, 98), (285, 90), (305, 100), (330, 88), (355, 84), (380, 94), (400, 92), (430, 88), (455, 80), (475, 82), (500, 82)]
f4_b1 = [(20, 100), (45, 98), (70, 97), (95, 85), (120, 85), (145, 71), (165, 92), (190, 100), (215, 100), (240, 100), (265, 100), (285, 100), (310, 100), (335, 100), (360, 100), (385, 100), (410, 100), (435, 100), (460, 100), (480, 100), (500, 100)]
f4_b2 = [(20, 88), (45, 98), (70, 22), (95, 55), (120, 51), (145, 55), (165, 88), (190, 93), (215, 100), (240, 100), (265, 100), (285, 100), (310, 100), (335, 100), (360, 100), (385, 100), (410, 100), (440, 100), (460, 100), (480, 100), (500, 100)]
f4_r1 = [(20, 97), (45, 98), (70, 100), (95, 100), (115, 100), (140, 100), (160, 100), (190, 100), (215, 100), (240, 100), (265, 100), (285, 100), (315, 100), (335, 100), (355, 100), (380, 100), (405, 100), (430, 100), (450, 100), (470, 100), (485, 100), (500, 100)]

# row G: dapD
g1_g1 = [(0, 0), (7, 1.3), (22, 5.3), (45, 5.5), (70, 5.2), (97, 5.1), (120, 4.4), (145, 3.6), (170, 3.5), (195, 3.6), (215, 3.7), (240, 3.8), (265, 3.8), (290, 3.7), (315, 3.6), (340, 3.8), (360, 4.5), (385, 4.0)]
g1_g2 = [(0, 0), (22, 5.0), (45, 5.2), (70, 5.0), (97, 5.4), (120, 4.7), (145, 3.6), (170, 3.1), (195, 3.0), (220, 2.2), (240, 2.5), (265, 2.8), (290, 3.4), (315, 3.5), (340, 3.2), (360, 2.4), (385, 1.7), (410, 1.7), (437, 1.6), (460, 1.6), (485, 1.6), (500, 1.5)]
g1_g3 = [(0, 0), (22, 5.5), (45, 5.8), (70, 5.3), (97, 5.2), (120, 4.3), (145, 3.6), (170, 3.6), (195, 3.7), (220, 3.7), (240, 3.5), (265, 3.0), (290, 2.2), (315, 1.7), (340, 1.6), (360, 1.6), (385, 1.6), (410, 1.6), (437, 1.6), (460, 1.6), (485, 1.6), (500, 1.6)]
g1_b1 = [(0, 0), (22, 7.8), (45, 10.3), (72, 10.0), (97, 9.8), (120, 9.6), (145, 9.0), (170, 9.5), (190, 8.6), (215, 7.0), (240, 5.0), (262, 3.5), (287, 2.2), (310, 1.3), (335, 1.0), (357, 1.0), (380, 1.0), (410, 1.0), (437, 1.0), (460, 1.0), (485, 1.1), (500, 1.2)]
g1_b2 = [(0, 0), (22, 5.0), (45, 7.8), (72, 8.0), (97, 8.0), (120, 8.0), (145, 7.7), (170, 7.3), (190, 5.5), (215, 3.8), (240, 2.5), (262, 2.0), (287, 1.5), (310, 1.0), (335, 1.0), (357, 1.0), (380, 1.0), (410, 1.0), (437, 1.0), (460, 1.2), (485, 1.2), (500, 1.2)]
g1_r1 = [(0, 0), (7, 0.5), (22, 3.5), (45, 7.2), (70, 8.4), (100, 8.5), (120, 8.6), (145, 9.1), (170, 9.0), (190, 9.0), (215, 9.0), (240, 8.9), (260, 8.9), (290, 8.9), (310, 8.9), (335, 8.9), (360, 8.9), (385, 9.0), (410, 8.9), (430, 8.9), (455, 8.9), (485, 8.6), (500, 8.4)]

g2_g1 = [(5, 0.15), (15, 0.30), (25, 0.37), (45, 0.45), (70, 0.46), (97, 0.48), (120, 0.38), (145, 0.30), (170, 0.28), (195, 0.29), (220, 0.29), (240, 0.29), (265, 0.30), (290, 0.29), (310, 0.29), (335, 0.28), (360, 0.36), (385, 0.34)]
g2_g2 = [(5, 0.18), (15, 0.27), (25, 0.33), (45, 0.41), (70, 0.43), (97, 0.48), (120, 0.33), (145, 0.29), (170, 0.26), (195, 0.24), (220, 0.20), (240, 0.22), (265, 0.22), (290, 0.24), (310, 0.28), (335, 0.24), (360, 0.20), (385, 0.18), (410, 0.17), (437, 0.15), (460, 0.15), (485, 0.15), (500, 0.15)]
g2_g3 = [(5, 0.20), (15, 0.35), (25, 0.40), (45, 0.47), (70, 0.47), (97, 0.50), (120, 0.45), (145, 0.30), (170, 0.29), (195, 0.29), (220, 0.28), (240, 0.29), (265, 0.30), (290, 0.30), (310, 0.28), (335, 0.28), (360, 0.23), (385, 0.22), (410, 0.20), (437, 0.18), (460, 0.18), (485, 0.18), (500, 0.17)]
g2_b1 = [(5, 0.08), (10, 0.04), (22, 0.13), (45, 0.19), (70, 0.20), (97, 0.21), (120, 0.21), (145, 0.21), (170, 0.20), (190, 0.21), (215, 0.20), (240, 0.17), (262, 0.14), (287, 0.11), (310, 0.07), (335, 0.05), (357, 0.04), (380, 0.04), (410, 0.04), (437, 0.04), (460, 0.04), (485, 0.05), (500, 0.06)]
g2_b2 = [(5, 0), (22, 0.10), (45, 0.16), (70, 0.17), (97, 0.17), (120, 0.17), (145, 0.17), (170, 0.16), (190, 0.17), (215, 0.15), (240, 0.13), (262, 0.10), (287, 0.06), (310, 0.03), (335, 0.02), (357, 0.02), (380, 0.02), (410, 0.02), (437, 0.02), (460, 0.02), (485, 0.02)]
g2_r1 = [(5, 0), (22, 0.10), (45, 0.15), (70, 0.19), (97, 0.21), (120, 0.21), (145, 0.22), (170, 0.22), (190, 0.23), (215, 0.23), (240, 0.24), (262, 0.24), (287, 0.24), (310, 0.24), (335, 0.24), (357, 0.24), (385, 0.23), (410, 0.23), (430, 0.23), (455, 0.22), (485, 0.22), (500, 0.24)]

g3_g1 = [(3, 0.55), (20, 0.65), (45, 0.70), (70, 0.72), (97, 0.73), (120, 0.66), (145, 0.60), (170, 0.62), (195, 0.62), (220, 0.63), (240, 0.63), (265, 0.64), (290, 0.64), (310, 0.60), (335, 0.60), (360, 0.70), (385, 0.60)]
g3_g2 = [(3, 0.30), (20, 0.60), (45, 0.66), (70, 0.70), (97, 0.72), (120, 0.70), (145, 0.55), (170, 0.45), (195, 0.41), (220, 0.41), (240, 0.40), (268, 0.49), (290, 0.50), (317, 0.60), (335, 0.59), (358, 0.54), (382, 0.39), (405, 0.37), (437, 0.35), (460, 0.35), (485, 0.35), (500, 0.35)]
g3_g3 = [(3, 0.29), (20, 0.51), (45, 0.54), (70, 0.54), (97, 0.46), (120, 0.42), (145, 0.42), (170, 0.42), (195, 0.42), (220, 0.41), (240, 0.40), (265, 0.36), (290, 0.33), (310, 0.32), (335, 0.30), (360, 0.28), (385, 0.25), (410, 0.23), (437, 0.23), (460, 0.24), (485, 0.24), (500, 0.22)]
g3_b1 = [(3, 1.0), (5, 0.40), (20, 0.60), (45, 0.60), (70, 0.60), (97, 0.60), (120, 0.62), (145, 0.60), (167, 0.60), (190, 0.57), (215, 0.45), (240, 0.33), (262, 0.26), (287, 0.16), (310, 0.12), (335, 0.11), (357, 0.09), (380, 0.09), (410, 0.10), (437, 0.11), (460, 0.13), (485, 0.14), (500, 0.16)]
g3_b2 = [(5, 0), (22, 0.62), (45, 0.65), (70, 0.65), (97, 0.62), (120, 0.62), (145, 0.58), (170, 0.62), (190, 0.47), (215, 0.37), (240, 0.25), (262, 0.15), (287, 0.12), (310, 0.10), (335, 0.09), (357, 0.08), (380, 0.08), (410, 0.08), (437, 0.08), (460, 0.07), (485, 0.10), (500, 0.10)]
g3_r1 = [(5, 0), (20, 0.60), (45, 0.70), (70, 0.72), (97, 0.71), (120, 0.72), (145, 0.74), (167, 0.74), (190, 0.74), (215, 0.73), (240, 0.74), (262, 0.74), (287, 0.74), (310, 0.74), (335, 0.74), (357, 0.74), (385, 0.74), (410, 0.73), (430, 0.73), (455, 0.72), (480, 0.71), (500, 0.69)]

g4_g1 = [(20, 99), (45, 97), (70, 99), (100, 100), (125, 100), (150, 100), (175, 100), (200, 100), (225, 100), (250, 100), (275, 100), (300, 100), (325, 100), (350, 100), (380, 100), (410, 100), (435, 90), (460, 93), (485, 97), (500, 97)]
g4_b1 = [(20, 97), (45, 100), (70, 100), (95, 90), (120, 100), (145, 100), (170, 100), (195, 100), (220, 100), (245, 100), (270, 100), (295, 100), (320, 100), (345, 100), (370, 100), (395, 100), (420, 100), (445, 100), (470, 100), (500, 100)]
g4_r1 = [(20, 100), (50, 100), (75, 100), (100, 100), (140, 100), (190, 100), (240, 100), (280, 100), (330, 100), (380, 100), (440, 100), (470, 100), (500, 100)]

# replicate lists per row, one entry per column
green = {'A': [[a1_g1], [a2_g1], [a3_g1], [a4_g1]],
         'B': [[b1_g1, b1_g2], [b2_g1, b2_g2], [b3_g1, b3_g2], [b4_g1]],
         'C': [[c1_g1, c1_g2], [c2_g1, c2_g2], [c3_g1, c3_g2], [c4_g1]],
         'D': [[d1_g1, d1_g2], [d2_g1, d2_g2], [d3_g1, d3_g2], [d4_g1]],
         'E': [[e1_g1], [e2_g1], [e3_g1], [e4_g1]],
         'F': [[f1_g1], [f2_g1], [f3_g1], [f4_g1]],
         'G': [[g1_g1, g1_g2, g1_g3], [g2_g1, g2_g2, g2_g3], [g3_g1, g3_g2, g3_g3], [g4_g1]]}
blue = {'A': [[a1_b1], [a2_b1], [a3_b1], [a4_b1]],
        'B': [[b1_b1], [b2_b1], [b3_b1], [b4_b1]],
        'C': [[c1_b1], [c2_b1], [c3_b1], [c4_b1]],
        'D': [[d1_b1, d1_b2], [d2_b1, d2_b2], [d3_b1, d3_b2], [d4_b1]],
        'E': [[e1_b1, e1_b2], [e2_b1, e2_b2], [e3_b1, e3_b2], [e4_b1, e4_b2]],
        'F': [[f1_b1, f1_b2], [f2_b1, f2_b2], [f3_b1, f3_b2], [f4_b1, f4_b2]],
        'G': [[g1_b1, g1_b2], [g2_b1, g2_b2], [g3_b1, g3_b2], [g4_b1]]}
red = {'A': [[a1_r1, a1_r2], [a2_r1, a2_r2], [a3_r1, a3_r2], [a4_r1, a4_r2]],
       'B': [[b1_r1], [b2_r1], [b3_r1], [b4_r1]],
       'C': [[c1_r1], [c2_r1], [c3_r1], [c4_r1]],
       'D': [[d1_r1, d1_r2, d1_r3], [d2_r1, d2_r2, d2_r3], [d3_r1, d3_r2], [d4_r1]],
       'E': [[e1_r1], [e2_r1], [e3_r1], [e4_r1]],
       'F': [[f1_r1], [f2_r1], [f3_r1], [f4_r1]],
       'G': [[g1_r1], [g2_r1], [g3_r1], [g4_r1]]}

rows = ['A', 'B', 'C', 'D', 'E', 'F', 'G']
row_names = ['CBC-Unstabilised', 'CBC-tet', 'CBC-infA', 'CBC-ssb', 'CBC-proBA', 'CBC-proC', 'CBC-dapD']
col_titles = [r'Citramalate [g$_{\mathbf{CMA}}$ L$^{\mathbf{-1}}$]',
              r'Specific Productivity [g$_{\mathbf{CMA}}$ g$_{\mathbf{DCW}}^{\mathbf{-1}}$ h$^{\mathbf{-1}}$]',
              r'Product Yield [g$_{\mathbf{CMA}}$ g$_{\mathbf{Glu}}^{\mathbf{-1}}$]',
              'Plasmid Bearing Cells']
ylims = [(0, 15), (0, 0.6), (0, 1), (0, 100)]
yticks = [[0, 5, 10, 15], [0, 0.5], [0, 0.5, 1], [0, 50, 100]]
yticklabels = [['0', '5', '10', '15'], ['0', '0.5'], ['0', '0.5', '1'], ['0%', '50%', '100%']]
legend_labels = [r'D=0.1 h$^{-1}$, T=37°C', r'D=0.033 h$^{-1}$, T=37°C', r'D=0.033 h$^{-1}$, T=30°C']

# ---- layout in pixels ----
W, H = 1681, 878
col_left = [55.3, 472.7, 890.0, 1307.0]
ax_w = 357.0
ax_h = 74.7
row_bottom = [112.5 + 113.6 * i for i in range(7)]
# panel label placement per column (x offset px, baseline fraction)
lab_pos = [(11, 0.865), (10, 0.91), (10, 0.86), (5, 0.11)]

AX_COL = '#262626'
TK_COL = '#404040'

fig = plt.figure(figsize=(W / 100, H / 100), dpi=100)


def draw(ax, reps, color, marker, ms):
    for rep in reps:
        t, v = np.array(rep, dtype=float).T
        ax.plot(t, v, color=color, lw=3.0, alpha=0.17, solid_capstyle='round',
                solid_joinstyle='round', clip_on=False, zorder=2)
        ax.plot(t, v, color=color, lw=0.8, marker=marker, ms=ms, mfc=color,
                mec=color, mew=0.5, clip_on=False, zorder=3)


for r, key in enumerate(rows):
    for c in range(4):
        rect = [col_left[c] / W, 1 - row_bottom[r] / H, ax_w / W, ax_h / H]
        ax = fig.add_axes(rect)
        draw(ax, green[key][c], GREEN, 's', 3.6)
        draw(ax, blue[key][c], BLUE, '^', 4.4)
        draw(ax, red[key][c], RED, 'o', 4.0)

        ax.set_xlim(0, 500)
        ax.set_ylim(*ylims[c])
        ax.set_xticks([0, 100, 200, 300, 400, 500])
        ax.set_yticks(yticks[c])
        ax.set_yticklabels(yticklabels[c])
        for s in ['top', 'right']:
            ax.spines[s].set_visible(False)
        for s in ['left', 'bottom']:
            ax.spines[s].set_color(AX_COL)
            ax.spines[s].set_linewidth(0.8)
        ax.tick_params(direction='in', length=3, width=0.7, color=AX_COL,
                       labelcolor=TK_COL, labelsize=9.5, pad=3)
        ax.patch.set_alpha(0)

        dx, fy = lab_pos[c]
        ax.text(dx / ax_w, fy, f'{key}{c + 1}', transform=ax.transAxes,
                fontsize=15, fontweight='bold', va='baseline', ha='left', zorder=5)

        if r == 0:
            fig.text((col_left[c] + ax_w / 2) / W, 1 - 19 / H, col_titles[c],
                     ha='center', va='center', fontsize=11.5, fontweight='bold')
        if r == len(rows) - 1:
            fig.text((col_left[c] + ax_w / 2) / W, 1 - 829 / H, 'Time [h]',
                     ha='center', va='center', fontsize=11.5, fontweight='bold',
                     color='#333333')

    fig.text(22 / W, 1 - (row_bottom[r] - ax_h / 2) / H, row_names[r],
             rotation=90, ha='center', va='center', fontsize=11,
             fontweight='bold', color='#333333')

handles = [Line2D([0], [0], color=GREEN, lw=2, marker='s', ms=8),
           Line2D([0], [0], color=BLUE, lw=2, marker='^', ms=11),
           Line2D([0], [0], color=RED, lw=2, marker='o', ms=10)]
fig.legend(handles, legend_labels, loc='center', ncol=3, frameon=False,
           bbox_to_anchor=(828 / W, 1 - 861 / H), fontsize=14.5,
           handlelength=2.3, handletextpad=0.2, columnspacing=0.4)

fig.savefig('out.png', dpi=100)
